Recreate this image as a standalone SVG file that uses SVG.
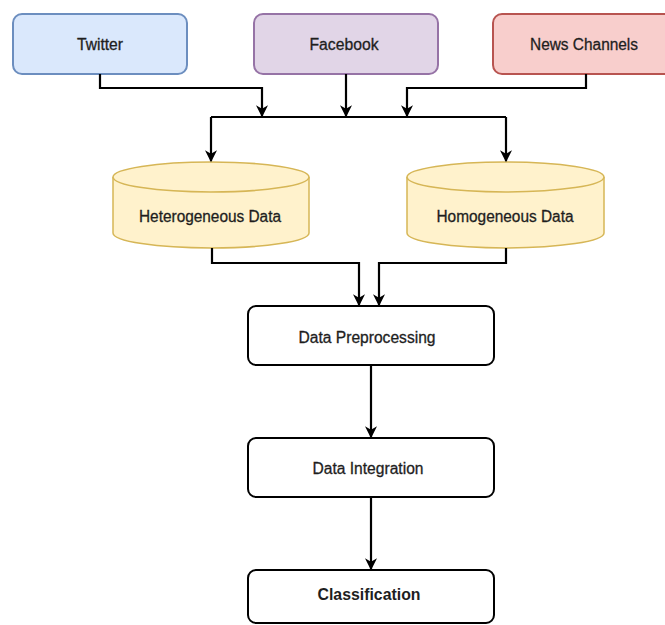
<svg xmlns="http://www.w3.org/2000/svg" width="665" height="625" viewBox="0 0 665 625">
<defs>
<marker id="arr" viewBox="0 0 10 10" refX="9" refY="5" markerWidth="13" markerHeight="12" markerUnits="userSpaceOnUse" orient="auto">
<path d="M0,0 L10,5 L0,10 L3,5 Z" fill="#000"/>
</marker>
<style>
text{font-family:"Liberation Sans",Arial,sans-serif;font-size:16px;fill:#1e1e1e;stroke:#1e1e1e;stroke-width:0.3;text-anchor:middle;dominant-baseline:central}
.box{fill:#fff;stroke:#000;stroke-width:2}
.cyl{fill:#fff2cc;stroke:#d6b656;stroke-width:1.5}
.con{fill:none;stroke:#000;stroke-width:2.2;marker-end:url(#arr)}
.ln{fill:none;stroke:#000;stroke-width:2.2}
</style>
</defs>
<rect width="665" height="625" fill="#fff"/>
<g id="twitter">
<rect x="13" y="14" width="174" height="60" rx="9" fill="#dae8fc" stroke="#6c8ebf" stroke-width="2"/>
<text x="100" y="44" textLength="46" lengthAdjust="spacingAndGlyphs">Twitter</text>
</g>
<g id="facebook">
<rect x="254" y="14" width="184" height="60" rx="9" fill="#e1d5e7" stroke="#9673a6" stroke-width="2"/>
<text x="344" y="44" textLength="69" lengthAdjust="spacingAndGlyphs">Facebook</text>
</g>
<g id="news">
<rect x="493" y="14" width="185" height="60" rx="9" fill="#f8cecc" stroke="#b85450" stroke-width="2"/>
<text x="584" y="44" textLength="108" lengthAdjust="spacingAndGlyphs">News Channels</text>
</g>
<g id="hetero">
<path class="cyl" d="M113,177 L113,233 A98,15 0 0 0 309,233 L309,177 A98,15 0 0 0 113,177 Z"/>
<path class="cyl" fill="none" d="M113,177 A98,15 0 0 0 309,177"/>
<text x="210" y="216" textLength="142" lengthAdjust="spacingAndGlyphs">Heterogeneous Data</text>
</g>
<g id="homo">
<path class="cyl" d="M407,177 L407,233 A98.5,15 0 0 0 604,233 L604,177 A98.5,15 0 0 0 407,177 Z"/>
<path class="cyl" fill="none" d="M407,177 A98.5,15 0 0 0 604,177"/>
<text x="505" y="216" textLength="137" lengthAdjust="spacingAndGlyphs">Homogeneous Data</text>
</g>
<g id="preprocessing">
<rect class="box" x="248" y="306" width="246" height="59" rx="8"/>
<text x="367" y="337" textLength="137" lengthAdjust="spacingAndGlyphs">Data Preprocessing</text>
</g>
<g id="integration">
<rect class="box" x="248" y="438" width="246" height="59" rx="8"/>
<text x="368" y="468" textLength="111" lengthAdjust="spacingAndGlyphs">Data Integration</text>
</g>
<g id="classification">
<rect class="box" x="248" y="570" width="246" height="53" rx="8"/>
<text x="369" y="594" textLength="103" lengthAdjust="spacingAndGlyphs" style="font-size:17px;font-weight:bold;stroke-width:0">Classification</text>
</g>
<g id="connectors">
<path class="con" d="M100,74 L100,88 L262,88 L262,116"/>
<path class="con" d="M346,74 L346,116"/>
<path class="con" d="M586,74 L586,88 L407,88 L407,116"/>
<path class="ln" d="M211,117 L506,117"/>
<path class="con" d="M211,117 L211,161"/>
<path class="con" d="M506,117 L506,161"/>
<path class="con" d="M212,248 L212,263 L359,263 L359,305"/>
<path class="con" d="M506,248 L506,263 L379,263 L379,305"/>
<path class="con" d="M371,365 L371,437"/>
<path class="con" d="M371,497 L371,569"/>
</g>
</svg>
